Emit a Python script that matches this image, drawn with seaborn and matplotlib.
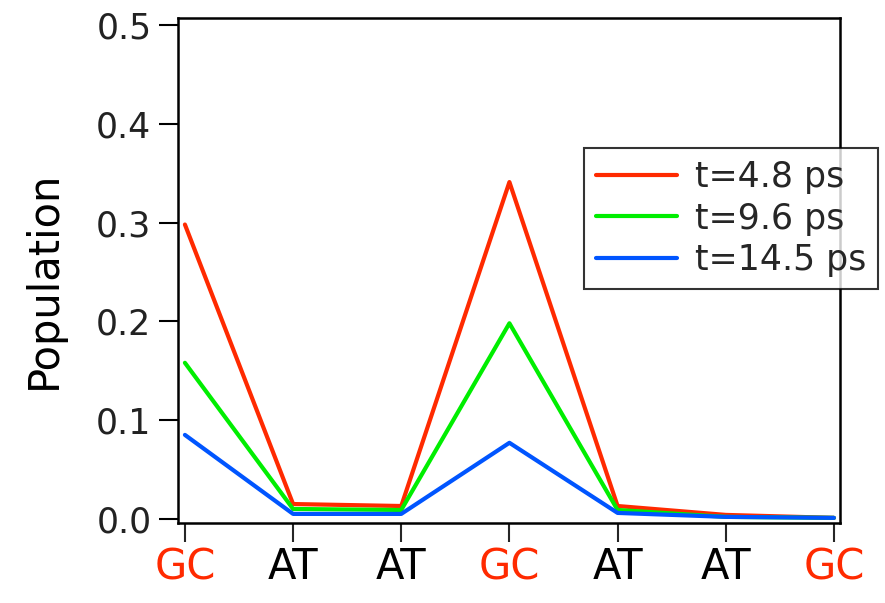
import numpy as np
import pandas as pd
import seaborn as sns
from matplotlib import pyplot as plt

sns.set_theme(style="ticks")
plt.rcParams['font.family'] = ['DejaVu Sans']

# base pairs along the strand
bases = ['GC', 'AT', 'AT', 'GC', 'AT', 'AT', 'GC']
base_colors = ['#ff2a00', 'black', 'black', '#ff2a00', 'black', 'black', '#ff2a00']

# population per site at each time
pop_48 = [0.298, 0.015, 0.013, 0.341, 0.013, 0.004, 0.001]
pop_96 = [0.158, 0.010, 0.009, 0.198, 0.009, 0.002, 0.001]
pop_145 = [0.085, 0.005, 0.005, 0.077, 0.006, 0.002, 0.001]
labels = ['t=4.8 ps', 't=9.6 ps', 't=14.5 ps']
colors = ['#ff2a00', '#00ee00', '#0055ff']

site = np.arange(len(bases))
df = pd.concat([
    pd.DataFrame({'site': site, 'population': p, 'time': lab})
    for p, lab in zip([pop_48, pop_96, pop_145], labels)
])

fig = plt.figure(figsize=(8.85, 6.03), dpi=100)
ax = fig.add_axes([0.201, 0.133, 0.748, 0.837])

sns.lineplot(data=df, x='site', y='population', hue='time', palette=colors,
             linewidth=3, sort=False, ax=ax)

ax.set_xlim(-0.065, 6.055)
ax.set_ylim(-0.004, 0.507)
ax.set_yticks([0.0, 0.1, 0.2, 0.3, 0.4, 0.5])
ax.set_yticklabels(['0.0', '0.1', '0.2', '0.3', '0.4', '0.5'])
ax.set_xticks(site)
ax.set_xticklabels(bases)
for t, c in zip(ax.get_xticklabels(), base_colors):
    t.set_color(c)

ax.tick_params(axis='y', direction='out', length=14, width=1.5, labelsize=25,
               pad=5, colors='black', labelcolor='#222222')
ax.tick_params(axis='x', direction='out', length=14, width=1.5, labelsize=30, pad=3)
for s in ax.spines.values():
    s.set_linewidth(1.8)
    s.set_color('black')

ax.set_xlabel('')
ax.set_ylabel('Population', fontsize=30, color='black')
ax.yaxis.set_label_coords(-0.17, 0.481)

leg = ax.legend(loc='upper left', bbox_to_anchor=(0.613, 0.743), fontsize=25,
                frameon=True, fancybox=False, edgecolor='black', handlelength=2.35,
                handletextpad=0.5, borderpad=0.35, labelspacing=0.22, borderaxespad=0)
leg.get_frame().set_linewidth(1.5)
leg.set_title(None)
for line in leg.get_lines():
    line.set_linewidth(3)

fig.savefig('out.png', dpi=100)
